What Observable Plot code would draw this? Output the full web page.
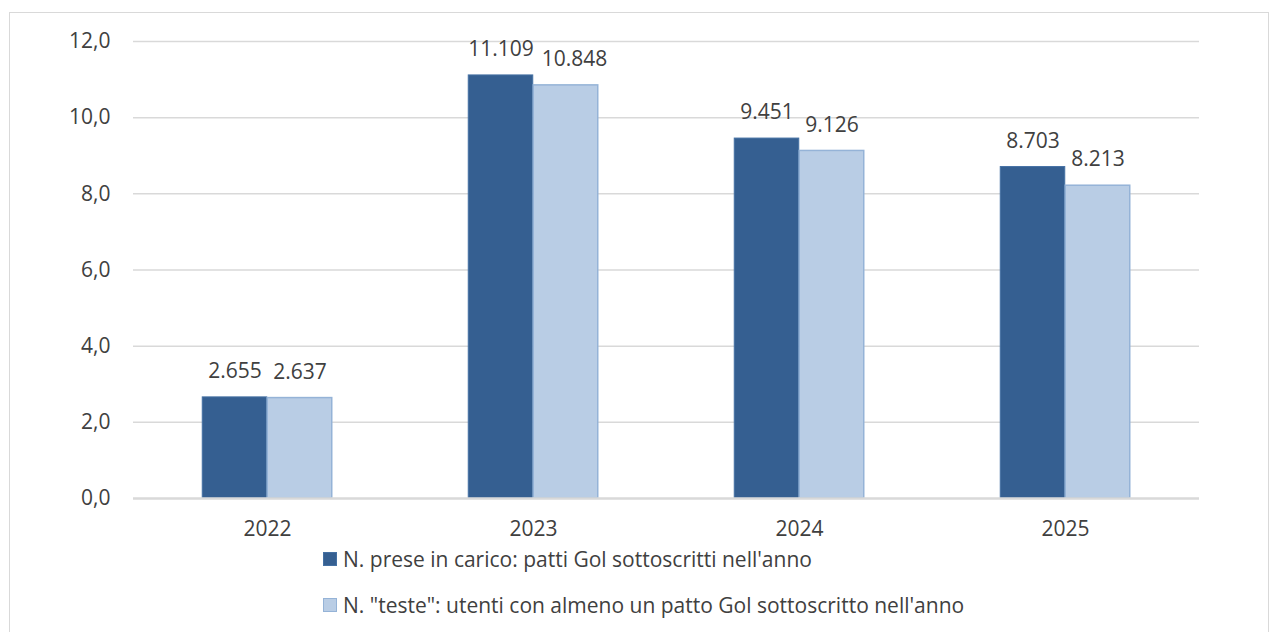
<!DOCTYPE html>
<html><head><meta charset="utf-8">
<script src="https://cdn.jsdelivr.net/npm/d3@7"></script>
<script src="https://cdn.jsdelivr.net/npm/@observablehq/plot@0.6"></script>
<style>
body{margin:0;background:#fff;font-family:"Open Sans",sans-serif;color:#404040;}
#frame{position:absolute;left:9px;top:12px;width:1260px;height:640px;border:1px solid #d9d9d9;box-sizing:border-box;}
#chart{position:absolute;left:0;top:0;}
#legend{position:absolute;left:323px;top:544px;font-size:21px;color:#404040;}
.item{display:flex;align-items:center;height:30px;margin-bottom:16px;white-space:nowrap;}
.sw{width:14px;height:14px;margin-right:6px;box-sizing:border-box;}
</style></head><body>
<div id="frame"></div>
<div id="chart"></div>
<div id="legend"></div>
<script>
const years = ["2022", "2023", "2024", "2025"];
const preseInCarico = [2655, 11109, 9451, 8703];
const teste = [2637, 10848, 9126, 8213];
const seriesNames = [
  "N. prese in carico: patti Gol sottoscritti nell'anno",
  "N. \"teste\": utenti con almeno un patto Gol sottoscritto nell'anno"
];
const yTicks = [0, 2, 4, 6, 8, 10, 12];

const itLocale = d3.formatLocale({decimal: ",", thousands: ".", grouping: [3], currency: ["", " €"]});
const fmtTick = itLocale.format(".1f");
const fmtLabel = itLocale.format(",d");

const dataA = years.map((y, i) => ({year: y, v: preseInCarico[i]}));
const dataB = years.map((y, i) => ({year: y, v: teste[i]}));

const darkFill = "#355F91", darkStroke = "#4470A3";
const lightFill = "#B9CDE5", lightStroke = "#95B3D7";

const chart = Plot.plot({
  width: 1269,
  height: 570,
  marginLeft: 133,
  marginRight: 70,
  marginTop: 41,
  marginBottom: 72,
  style: {fontFamily: "Open Sans, sans-serif", fontSize: "21px", color: "#404040", background: "transparent", overflow: "visible"},
  x: {domain: years, padding: 0, tickSize: 0, tickPadding: 23, label: null},
  y: {domain: [0, 12], ticks: yTicks, tickFormat: fmtTick, tickSize: 0, tickPadding: 23, label: null},
  marks: [
    Plot.ruleY(yTicks.filter(t => t > 0), {stroke: "#d9d9d9", strokeWidth: 1.5}),
    Plot.barY(dataA, {x: "year", y: d => d.v / 1000, fill: darkFill, stroke: darkStroke, strokeWidth: 1, insetLeft: 68.25, insetRight: 133.25}),
    Plot.barY(dataB, {x: "year", y: d => d.v / 1000, fill: lightFill, stroke: lightStroke, strokeWidth: 1.5, insetLeft: 133.25, insetRight: 68.25}),
    Plot.ruleY([0], {stroke: "#d9d9d9", strokeWidth: 2.5}),
    Plot.text(dataA, {x: "year", y: d => d.v / 1000, text: d => fmtLabel(d.v), dx: -32.5, dy: -26, fill: "#404040", fontSize: 21}),
    Plot.text(dataB, {filter: d => d.year !== "2023", x: "year", y: d => d.v / 1000, text: d => fmtLabel(d.v), dx: 32.5, dy: -26, fill: "#404040", fontSize: 21}),
    Plot.text(dataB, {filter: d => d.year === "2023", x: "year", y: d => d.v / 1000, text: d => fmtLabel(d.v), dx: 41, dy: -26, fill: "#404040", fontSize: 21})
  ]
});
document.getElementById("chart").appendChild(chart);

const legend = document.getElementById("legend");
[[darkFill, darkStroke], [lightFill, lightStroke]].forEach(([f, s], i) => {
  const item = document.createElement("div");
  item.className = "item";
  const sw = document.createElement("span");
  sw.className = "sw";
  sw.style.background = f;
  sw.style.border = "1px solid " + s;
  const t = document.createElement("span");
  t.textContent = seriesNames[i];
  item.appendChild(sw);
  item.appendChild(t);
  legend.appendChild(item);
});
</script>
</body></html>
